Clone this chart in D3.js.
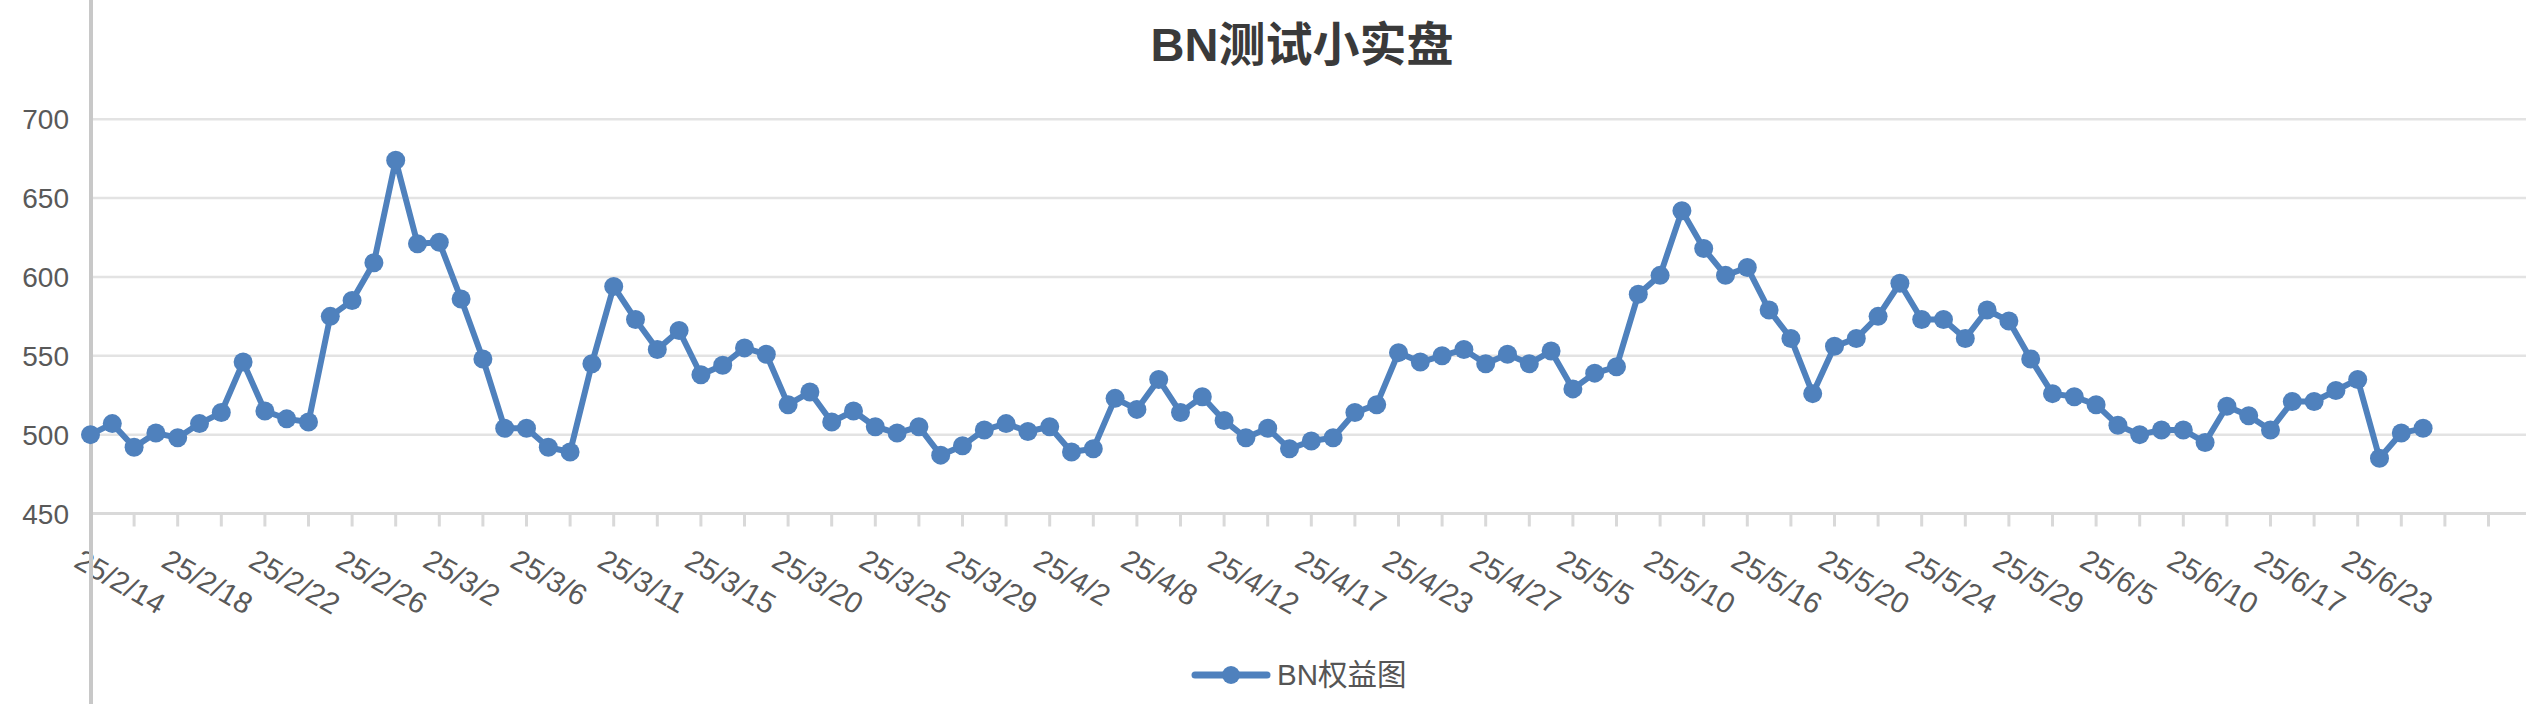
<!DOCTYPE html>
<html>
<head>
<meta charset="utf-8">
<script src="https://cdn.jsdelivr.net/npm/d3@7"></script>
<style>
  html, body { margin: 0; padding: 0; background: #fff; }
  svg { display: block; font-family: "Liberation Sans", Arial, "Noto Sans CJK SC", sans-serif; }
</style>
</head>
<body>
<svg id="chart"></svg>
<script>
// ---- Data ----
const chartTitle = "BN测试小实盘";
const seriesName = "BN权益图";

const dates = [
  "25/2/14", "25/2/15", "25/2/16", "25/2/17", "25/2/18", "25/2/19", "25/2/20", "25/2/21",
  "25/2/22", "25/2/23", "25/2/24", "25/2/25", "25/2/26", "25/2/27", "25/2/28", "25/3/1",
  "25/3/2", "25/3/3", "25/3/4", "25/3/5", "25/3/6", "25/3/7", "25/3/8", "25/3/10",
  "25/3/11", "25/3/12", "25/3/13", "25/3/14", "25/3/15", "25/3/16", "25/3/17", "25/3/19",
  "25/3/20", "25/3/21", "25/3/22", "25/3/24", "25/3/25", "25/3/26", "25/3/27", "25/3/28",
  "25/3/29", "25/3/30", "25/3/31", "25/4/1", "25/4/2", "25/4/3", "25/4/5", "25/4/7",
  "25/4/8", "25/4/9", "25/4/10", "25/4/11", "25/4/12", "25/4/14", "25/4/15", "25/4/16",
  "25/4/17", "25/4/19", "25/4/21", "25/4/22", "25/4/23", "25/4/24", "25/4/25", "25/4/26",
  "25/4/27", "25/4/29", "25/5/1", "25/5/3", "25/5/5", "25/5/6", "25/5/8", "25/5/9",
  "25/5/10", "25/5/12", "25/5/13", "25/5/15", "25/5/16", "25/5/17", "25/5/18", "25/5/19",
  "25/5/20", "25/5/21", "25/5/22", "25/5/23", "25/5/24", "25/5/26", "25/5/27", "25/5/28",
  "25/5/29", "25/5/31", "25/6/2", "25/6/3", "25/6/5", "25/6/6", "25/6/8", "25/6/9",
  "25/6/10", "25/6/12", "25/6/14", "25/6/16", "25/6/17", "25/6/19", "25/6/20", "25/6/22",
  "25/6/23", "25/6/24", "25/6/25", "25/6/26"
];

const equity = [
  500, 507, 492, 501, 498, 507, 514, 546, 515, 510, 508, 575, 585, 609, 674, 621,
  622, 586, 548, 504, 504, 492, 489, 545, 594, 573, 554, 566, 538, 544, 555, 551,
  519, 527, 508, 515, 505, 501, 505, 487, 493, 503, 507, 502, 505, 489, 491, 523,
  516, 535, 514, 524, 509, 498, 504, 491, 496, 498, 514, 519, 552, 546, 550, 554,
  545, 551, 545, 553, 529, 539, 543, 589, 601, 642, 618, 601, 606, 579, 561, 526,
  556, 561, 575, 596, 573, 573, 561, 579, 572, 548, 526, 524, 519, 506, 500, 503,
  503, 495, 518, 512, 503, 521, 521, 528, 535, 485, 501, 504
];

// empty category slots after the last date
const emptySlots = 5;
const yTicks = [450, 500, 550, 600, 650, 700];

// ---- Layout ----
const W = 2526, H = 704;
const axisX = 91;
const svg = d3.select("#chart").attr("width", W).attr("height", H);

const x = d3.scalePoint()
  .domain(d3.range(dates.length + emptySlots))
  .range([90.5, 90.5 + 21.8 * (dates.length + emptySlots - 1)]);

const y = d3.scaleLinear().domain([450, 700]).range([513.5, 119.2]);

// ---- Grid ----
svg.append("g").selectAll("line")
  .data(yTicks.slice(1))
  .join("line")
  .attr("x1", axisX).attr("x2", W)
  .attr("y1", d => y(d)).attr("y2", d => y(d))
  .attr("stroke", "#e3e3e3")
  .attr("stroke-width", 2.5);

svg.append("g").selectAll("text")
  .data(yTicks)
  .join("text")
  .attr("x", 69)
  .attr("y", d => y(d))
  .attr("dy", "0.36em")
  .attr("text-anchor", "end")
  .style("font-size", "28px")
  .style("fill", "#595959")
  .text(d => d);

// ---- X axis ----
svg.append("line")
  .attr("x1", axisX).attr("x2", W)
  .attr("y1", y(450)).attr("y2", y(450))
  .attr("stroke", "#d9d9d9")
  .attr("stroke-width", 3);

const tickIdx = x.domain().filter(i => i % 2 === 0);
svg.append("g").selectAll("line")
  .data(tickIdx)
  .join("line")
  .attr("x1", d => x(d)).attr("x2", d => x(d))
  .attr("y1", y(450)).attr("y2", y(450) + 13)
  .attr("stroke", "#d9d9d9")
  .attr("stroke-width", 3);

const labelIdx = d3.range(dates.length).filter(i => i % 4 === 0);
svg.append("g").selectAll("text")
  .data(labelIdx)
  .join("text")
  .attr("transform", d => `translate(${x(d) - 18},566) rotate(30)`)
  .attr("text-anchor", "start")
  .style("font-size", "29.5px")
  .style("fill", "#595959")
  .text(d => dates[d]);

// vertical axis line, runs the full height
svg.append("line")
  .attr("x1", axisX).attr("x2", axisX)
  .attr("y1", 0).attr("y2", H)
  .attr("stroke", "#c8c8c8")
  .attr("stroke-width", 4);

// ---- Series ----
const color = "#4f81bd";
const line = d3.line()
  .x((d, i) => x(i))
  .y(d => y(d));

svg.append("path")
  .datum(equity)
  .attr("d", line)
  .attr("fill", "none")
  .attr("stroke", color)
  .attr("stroke-width", 6)
  .attr("stroke-linejoin", "round");

svg.append("g").selectAll("circle")
  .data(equity)
  .join("circle")
  .attr("cx", (d, i) => x(i))
  .attr("cy", d => y(d))
  .attr("r", 9.5)
  .attr("fill", color);

// ---- Title ----
svg.append("text")
  .attr("x", 1302)
  .attr("y", 61)
  .attr("text-anchor", "middle")
  .style("font-size", "47px")
  .style("font-weight", "700")
  .style("fill", "#3a3a3a")
  .text(chartTitle);

// ---- Legend ----
const lg = svg.append("g").attr("transform", "translate(1195,675)");
lg.append("line")
  .attr("x1", 0).attr("x2", 72)
  .attr("stroke", color)
  .attr("stroke-width", 7)
  .attr("stroke-linecap", "round");
lg.append("circle").attr("cx", 36).attr("r", 9).attr("fill", color);
lg.append("text")
  .attr("x", 82)
  .attr("y", 10)
  .style("font-size", "29.5px")
  .style("fill", "#555")
  .text(seriesName);
</script>
</body>
</html>
